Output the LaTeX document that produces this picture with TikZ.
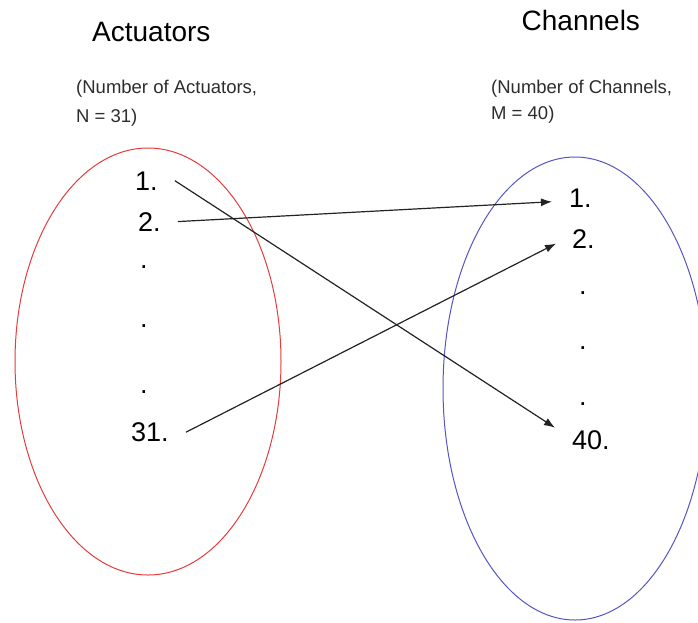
\documentclass[tikz,border=0pt]{standalone}
\usepackage{fontspec}
\setmainfont{Liberation Sans}
\usetikzlibrary{arrows.meta,calc}
\definecolor{ellred}{RGB}{228,60,60}
\definecolor{ellblue}{RGB}{85,85,195}
\definecolor{arrgray}{RGB}{35,35,35}
\definecolor{subgray}{RGB}{45,45,45}
\begin{document}
\begin{tikzpicture}[x=1pt,y=-1pt,
  titletext/.style={anchor=base west,inner sep=0pt,font=\fontsize{28}{33}\selectfont},
  subtext/.style={anchor=north west,inner sep=0pt,align=left,text=subgray},
  numtext/.style={anchor=base west,inner xsep=17pt,inner ysep=0pt,font=\fontsize{27}{32}\selectfont},
  dottext/.style={anchor=base west,inner sep=0pt,font=\fontsize{27}{32}\selectfont},
  arr/.style={draw=arrgray,line width=1.2pt,-{Latex[length=11pt,width=8pt]}},
  setline/.style={line width=1pt}]
\useasboundingbox (0,0) rectangle (698,622);
% sets
\draw[setline,ellred] (148,361.5) ellipse [x radius=133pt,y radius=213.5pt];
\draw[setline,ellblue] (575,388.5) ellipse [x radius=132pt,y radius=231.5pt];
% titles
\node[titletext] (tA) at (92,41) {Actuators};
\node[titletext] (tC) at (521.5,30) {Channels};
\node[subtext,font=\fontsize{18.5}{29}\selectfont] (sA) at (76,79.5) {(Number of Actuators,\\N = 31)};
\node[subtext,font=\fontsize{18.5}{26}\selectfont] (sC) at (491,79.5) {(Number of Channels,\\M = 40)};
% left numbers
\node[numtext] (a1) at (118,190) {1.};
\node[numtext] (a2) at (121,231) {2.};
\node[dottext] (ad1) at (140,268) {.};
\node[dottext] (ad2) at (140,327) {.};
\node[dottext] (ad3) at (140,393) {.};
\node[numtext] (a31) at (114,441.5) {31.};
% right numbers
\node[numtext] (c1) at (552,207) {1.};
\node[numtext] (c2) at (555,248) {2.};
\node[dottext] (cd1) at (579,294) {.};
\node[dottext] (cd2) at (579,349) {.};
\node[dottext] (cd3) at (579,405) {.};
\node[numtext] (c40) at (555,449) {40.};
% mappings
\draw[arr] (a1.east) -- ($(c40.west)+(0,-12)$);
\draw[arr] (a2.east) -- ($(c1.west)+(0,4)$);
\draw[arr] (a31.east) -- ($(c2.west)+(1,5)$);
\end{tikzpicture}
\end{document}
